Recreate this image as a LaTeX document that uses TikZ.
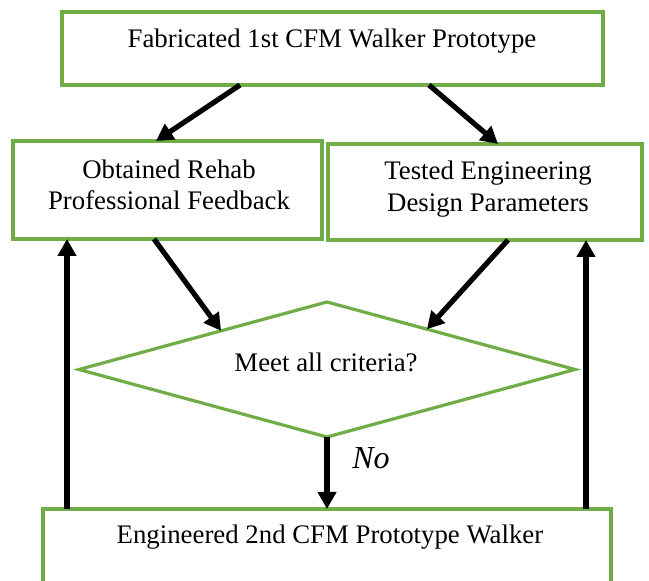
\documentclass[tikz,border=0pt]{standalone}
\usepackage{fontspec}
\setmainfont{Liberation Serif}
\usetikzlibrary{arrows.meta,shapes.geometric,calc}
\definecolor{boxgreen}{RGB}{112,173,71}
\begin{document}
\begin{tikzpicture}[x=0.5pt,y=-0.5pt,
  box/.style={draw=boxgreen,line width=1.6pt,rectangle,inner sep=0pt,outer sep=0pt},
  dia/.style={draw=boxgreen,line width=1.6pt,diamond,inner sep=0pt,outer sep=0pt,aspect=3.67},
  lbl/.style={anchor=base,inner sep=0pt,font=\fontsize{13.4}{15.5}\selectfont},
  arr/.style={line width=2.6pt,-{Triangle[length=8.5pt,width=9pt]}},
]
\useasboundingbox (0,0) rectangle (649,581);
% shapes
\node[box,minimum width=270.5pt,minimum height=36.5pt] (top) at (332.5,48.5) {};
\node[box,minimum width=154.5pt,minimum height=49pt] (left) at (167.5,190) {};
\node[box,minimum width=157pt,minimum height=48pt] (right) at (485,192) {};
\node[dia,minimum width=248pt,minimum height=67.5pt] (dia) at (327,369.5) {};
\node[box,minimum width=284pt,minimum height=50pt] (bot) at (327,559) {};
% texts
\node[lbl] (ttop) at (332,48) {Fabricated 1st CFM Walker Prototype};
\node[lbl] (tl1) at (169,179) {Obtained Rehab};
\node[lbl] (tl2) at (169,210) {Professional Feedback};
\node[lbl] (tr1) at (488,180) {Tested Engineering};
\node[lbl] (tr2) at (488,212) {Design Parameters};
\node[lbl] (tdia) at (326,372) {Meet all criteria?};
\node[lbl,anchor=base west,font=\fontsize{16}{18}\selectfont\itshape] (tno) at (352,469) {No};
\node[lbl] (tbot) at (330,544) {Engineered 2nd CFM Prototype Walker};
% connector end points
\coordinate (t1) at ([xshift=89pt]top.south west);
\coordinate (t2) at ([xshift=183.5pt]top.south west);
\coordinate (l1) at ([xshift=71.5pt]left.north west);
\coordinate (r1) at ([xshift=85pt]right.north west);
\coordinate (l2) at ([xshift=70.5pt]left.south west);
\coordinate (r2) at ([xshift=90pt]right.south west);
\coordinate (d1) at ($(dia.west)!0.573!(dia.north)$);
\coordinate (d2) at ($(dia.north)!0.403!(dia.east)$);
\coordinate (b1) at ([xshift=12pt]bot.north west);
\coordinate (b2) at ([xshift=-12.5pt]bot.north east);
% connectors
\draw[arr] (t1) -- (l1);
\draw[arr] (t2) -- (r1);
\draw[arr] (l2) -- (d1);
\draw[arr] (r2) -- (d2);
\draw[arr] (dia.south) -- (dia.south |- bot.north);
\draw[arr] (b1) -- (b1 |- left.south);
\draw[arr] (b2) -- (b2 |- right.south);
\end{tikzpicture}
\end{document}
